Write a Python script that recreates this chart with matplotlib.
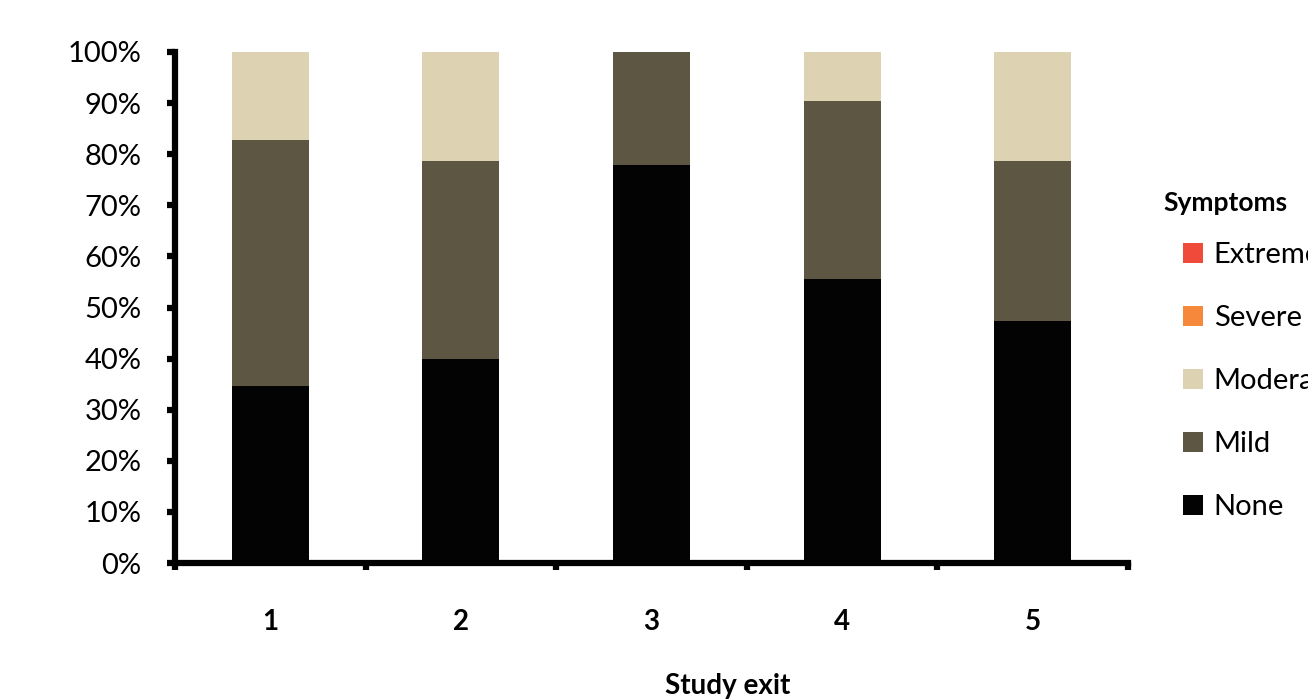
import matplotlib
matplotlib.use('Agg')
import matplotlib.pyplot as plt
import numpy as np
from matplotlib.patches import Patch

plt.rcParams['font.family'] = ['Lato', 'DejaVu Sans']

# data (percent of participants per symptom level)
exits = ['1', '2', '3', '4', '5']
none_pct = [34.6, 39.9, 77.9, 55.6, 47.4]
mild_pct = [48.2, 38.8, 22.1, 34.8, 31.3]
moderate_pct = [17.2, 21.3, 0.0, 9.6, 21.3]
severe_pct = [0, 0, 0, 0, 0]
extreme_pct = [0, 0, 0, 0, 0]

levels = ['None', 'Mild', 'Moderate', 'Severe', 'Extreme']
colors = ['#030303', '#5c5642', '#ddd2b1', '#f5883a', '#f04a3a']
series = [none_pct, mild_pct, moderate_pct, severe_pct, extreme_pct]

fig = plt.figure(figsize=(13.08, 7), dpi=100)
ax = fig.add_axes([175/1308, 1-563/700, (1128-175)/1308, (563-52)/700])

x = np.arange(1, len(exits) + 1)
bottom = np.zeros(len(exits))
for vals, col in zip(series, colors):
    ax.bar(x, vals, width=0.405, bottom=bottom, color=col, linewidth=0)
    bottom += np.array(vals)

ax.set_xlim(0.5, 5.5)
ax.set_ylim(0, 100)
ax.set_yticks(np.arange(0, 101, 10))
ax.set_yticklabels([f'{v}%' for v in range(0, 101, 10)], fontsize=21)
ax.set_xticks(x)
ax.set_xticklabels(exits, fontsize=20, fontweight='bold')
ax.tick_params(axis='x', which='major', length=0, pad=33)
ax.set_xticks(np.arange(0.5, 5.6, 1), minor=True)
ax.tick_params(axis='x', which='minor', length=5, width=4.5, direction='out')
ax.tick_params(axis='y', length=6, width=4.5, direction='out', pad=18)

for s in ['top', 'right']:
    ax.spines[s].set_visible(False)
for s in ['left', 'bottom']:
    ax.spines[s].set_linewidth(4.5)

ax.set_xlabel('Study exit', fontsize=20, fontweight='bold', va='center')
ax.xaxis.set_label_coords(0.58, -(686-563)/511)

# legend title drawn on its own so it can sit left of the swatches
fig.text(1163/1308, 1-203/700, 'Symptoms', fontsize=19, fontweight='bold', va='center', ha='left')

handles = [Patch(facecolor=colors[i], edgecolor='none') for i in range(4, -1, -1)]
labels = [levels[i] for i in range(4, -1, -1)]
leg = fig.legend(handles, labels, loc='upper left', bbox_to_anchor=(1183/1308, 1-242/700),
                 frameon=False, fontsize=21, borderpad=0, borderaxespad=0,
                 handlelength=0.7, handleheight=0.7, handletextpad=0.35,
                 labelspacing=1.27)

fig.savefig('out.png', dpi=100)
